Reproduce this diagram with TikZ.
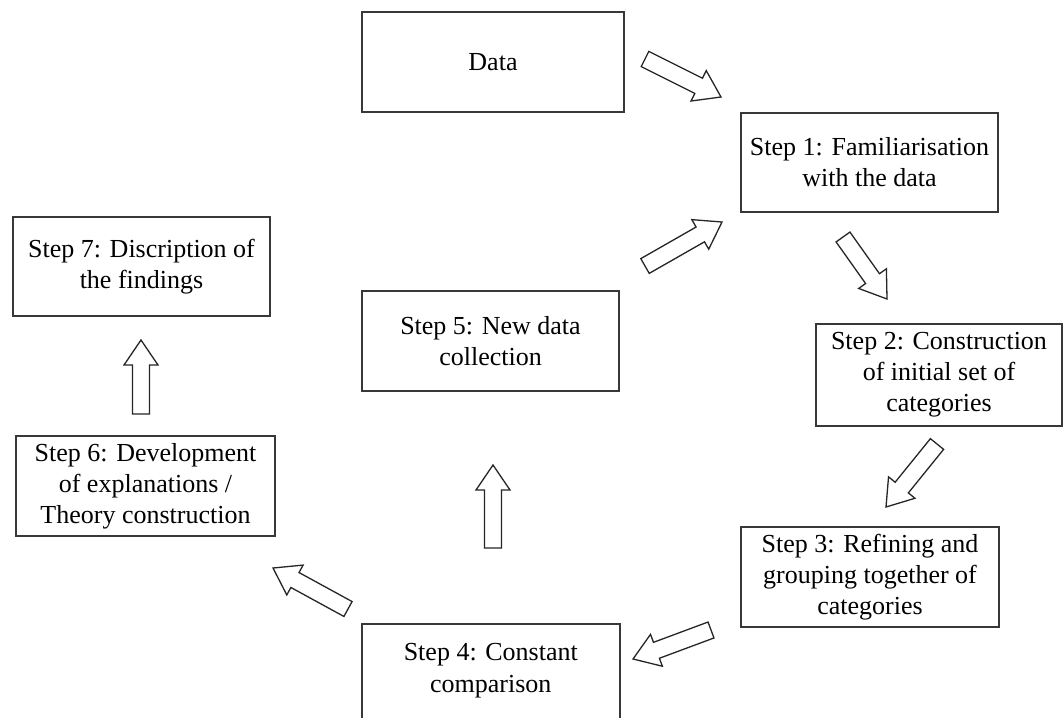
\documentclass[tikz,border=0pt]{standalone}
\usepackage{fontspec}
\setmainfont{Liberation Serif}
\usetikzlibrary{calc}
\tikzset{
  stepbox/.style={draw=black!78, line width=1.6pt, fill=white, align=center,
    inner sep=0pt, font=\fontsize{26}{31}\selectfont},
  barrow/.style={draw=black!85, line width=1.3pt, fill=white, line join=miter}
}
\newcommand{\boxat}[6]{% name, x1,y1,x2,y2, text
  \node[stepbox, minimum width={(#4)-(#2)}, minimum height={(#5)-(#3)}]
    (#1) at ({((#2)+(#4))/2},{((#3)+(#5))/2}) {#6};}
\newcommand{\blockarrow}[2]{%
  \draw[barrow] let \p1=($(#2)-(#1)$), \n1={atan2(\y1,\x1)},
      \n2={veclen(\x1,\y1)}, \n3={\n2-25pt} in
    ($(#1)+(\n1+90:8.5pt)$) -- ($(#1)+(\n1:\n3)+(\n1+90:8.5pt)$)
    -- ($(#1)+(\n1:\n3)+(\n1+90:17pt)$) -- (#2)
    -- ($(#1)+(\n1:\n3)+(\n1-90:17pt)$)
    -- ($(#1)+(\n1:\n3)+(\n1-90:8.5pt)$)
    -- ($(#1)+(\n1-90:8.5pt)$) -- cycle;}
\begin{document}
\begin{tikzpicture}[x=1pt,y=-1pt]
\useasboundingbox (0,0) rectangle (1064,717);
\clip (0,0) rectangle (1064,717);
\fill[white] (0,0) rectangle (1064,717);
\boxat{data}{362}{12}{624}{112}{Data}
\boxat{s1}{741}{113}{998}{212}{Step 1: Familiarisation\\with the data}
\boxat{s7}{13}{217}{270}{316}{Step 7: Discription of\\the findings}
\boxat{s5}{362}{291}{619}{391}{Step 5: New data\\collection}
\boxat{s2}{816}{324}{1062}{426}{Step 2: Construction\\of initial set of\\categories}
\boxat{s6}{16}{436}{275}{536}{Step 6: Development\\of explanations /\\Theory construction}
\boxat{s3}{741}{527}{999}{627}{Step 3: Refining and\\grouping together of\\categories}
\node[stepbox, minimum width=258pt, minimum height=160pt, anchor=north west]
  (s4) at (361,623) {};
\node[font=\fontsize{26}{32}\selectfont, align=center, inner sep=0pt, anchor=north]
  (s4t) at (s4.north) [yshift=-20pt] {Step 4: Constant\\comparison};
% arrow coordinates (tail, tip)
\coordinate (a1t) at (645,59);  \coordinate (a1h) at (721,97);
\coordinate (a2t) at (843,237); \coordinate (a2h) at (887,299);
\coordinate (a3t) at (937,444); \coordinate (a3h) at (886,507);
\coordinate (a4t) at (711,630); \coordinate (a4h) at (633,659);
\coordinate (a5t) at (348,609); \coordinate (a5h) at (273,568);
\coordinate (a6t) at (493,548); \coordinate (a6h) at (493,465);
\coordinate (a7t) at (141,414); \coordinate (a7h) at (141,340);
\coordinate (a8t) at (645,266); \coordinate (a8h) at (722,222);
\blockarrow{a1t}{a1h}
\blockarrow{a2t}{a2h}
\blockarrow{a3t}{a3h}
\blockarrow{a4t}{a4h}
\blockarrow{a5t}{a5h}
\blockarrow{a6t}{a6h}
\blockarrow{a7t}{a7h}
\blockarrow{a8t}{a8h}
\end{tikzpicture}
\end{document}
